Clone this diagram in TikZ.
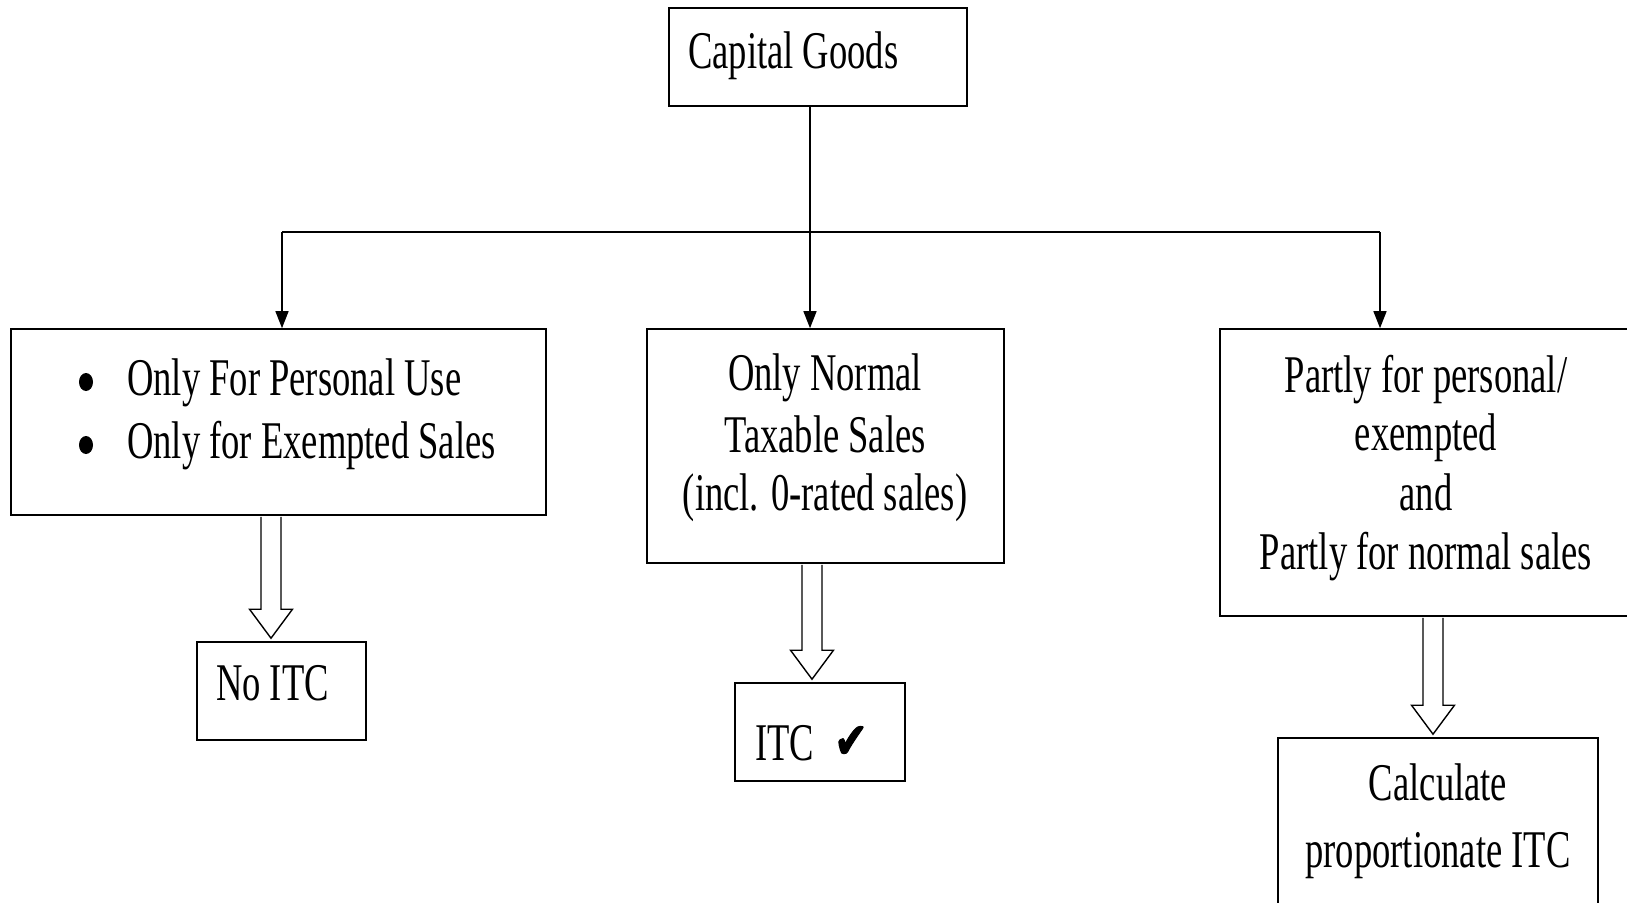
\documentclass[tikz,border=0pt]{standalone}
\usepackage{fontspec}
\setmainfont{Liberation Serif}[FakeStretch=0.69]
\newfontfamily\symfont{DejaVu Sans}[FakeStretch=0.8,FakeBold=2]
\usetikzlibrary{arrows.meta,calc,shapes.geometric}
\newcommand\hollowarr[3]{%
  \draw[hollow] ($(#1.south -| #3)+(-10,1)$) -- ($(#2.north -| #3)+(-10,-32)$) -- ($(#2.north -| #3)+(-21.5,-32)$) -- ($(#2.north -| #3)+(0,-3)$) -- ($(#2.north -| #3)+(21.5,-32)$) -- ($(#2.north -| #3)+(10,-32)$) -- ($(#1.south -| #3)+(10,1)$);}
\begin{document}
\begin{tikzpicture}[x=1pt,y=-1pt,
  box/.style={draw=black,line width=1.6pt,rectangle,inner sep=0pt},
  txt/.style={inner sep=0pt,font=\fontsize{53}{60}\selectfont},
  bulletdot/.style={ellipse,fill=black,inner sep=0pt,minimum width=14pt,minimum height=18pt},
  conn/.style={line width=1.4pt,draw=black},
  arr/.style={conn,-{Triangle[length=17pt,width=13pt]}},
  hollow/.style={line width=1.4pt,draw=black,fill=white,line join=miter}]
\useasboundingbox (0,0) rectangle (1627,902);

% boxes
\node[box,minimum width=298pt,minimum height=98pt] (cg) at (818,57) {};
\node[box,minimum width=535pt,minimum height=186pt] (b1) at (278.5,422) {};
\node[box,minimum width=357pt,minimum height=234pt] (b2) at (825.5,446) {};
\node[box,minimum width=440pt,minimum height=287pt] (b3) at (1440,472.5) {};
\node[box,minimum width=169pt,minimum height=98pt] (r1) at (281.5,691) {};
\node[box,minimum width=170pt,minimum height=98pt] (r2) at (820,732) {};
\node[box,minimum width=320pt,minimum height=222pt] (r3) at (1438,849) {};

% texts
\node[txt,anchor=base west] (cgt) at (688,68) {Capital Goods};
\node[bulletdot] (bul1) at (86,382) {};
\node[bulletdot] (bul2) at (86,445) {};
\node[txt,anchor=base west] (b1a) at (127,395) {Only For Personal Use};
\node[txt,anchor=base west] (b1b) at (127,458) {Only for Exempted Sales};
\node[txt,anchor=base] (b2a) at (825,390) {Only Normal};
\node[txt,anchor=base] (b2b) at (825,452) {Taxable Sales};
\node[txt,anchor=base] (b2c) at (825,510) {(incl. 0-rated sales)};
\node[txt,anchor=base] (b3a) at (1426,392) {Partly for personal/};
\node[txt,anchor=base] (b3b) at (1426,450) {exempted};
\node[txt,anchor=base] (b3c) at (1426,510) {and};
\node[txt,anchor=base] (b3d) at (1426,569) {Partly for normal sales};
\node[txt,anchor=base west] (r1t) at (216,700) {No ITC};
\node[txt,anchor=base west] (r2t) at (755,760) {ITC};
\node[inner sep=0pt,anchor=base west,font=\symfont\fontsize{50}{54}\selectfont] (r2c) at (834,758) {✔};
\node[txt,anchor=base] (r3a) at (1438,800) {Calculate};
\node[txt,anchor=base] (r3b) at (1438,867) {proportionate ITC};

% tree connectors
\coordinate (jl) at (282,232);
\coordinate (jc) at (810,232);
\coordinate (jr) at (1380,232);
\draw[conn] (cg.south -| jc) -- (jc);
\draw[conn] (jl) -- (jr);
\draw[arr] (jl) -- (jl |- b1.north);
\draw[arr] (jc) -- (jc |- b2.north);
\draw[arr] (jr) -- (jr |- b3.north);

% hollow arrows
\coordinate (ha1) at (271,0);
\coordinate (ha2) at (812,0);
\coordinate (ha3) at (1433,0);
\hollowarr{b1}{r1}{ha1}
\hollowarr{b2}{r2}{ha2}
\hollowarr{b3}{r3}{ha3}
\end{tikzpicture}
\end{document}
